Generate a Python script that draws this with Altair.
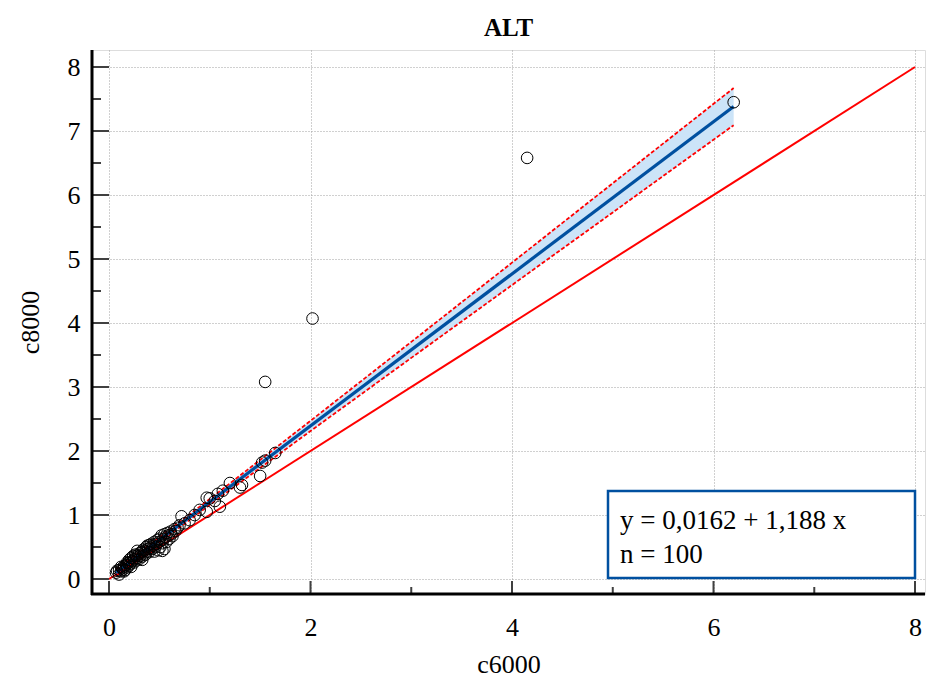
import altair as alt
import pandas as pd

# ---- data ----
c6000 = [
    0.07, 0.08, 0.10, 0.10, 0.12, 0.13, 0.14, 0.15, 0.16, 0.17,
    0.18, 0.19, 0.20, 0.20, 0.21, 0.22, 0.22, 0.23, 0.24, 0.25,
    0.25, 0.26, 0.27, 0.28, 0.28, 0.29, 0.30, 0.30, 0.31, 0.32,
    0.33, 0.34, 0.35, 0.35, 0.36, 0.37, 0.38, 0.39, 0.40, 0.40,
    0.41, 0.42, 0.43, 0.44, 0.45, 0.46, 0.47, 0.48, 0.49, 0.50,
    0.50, 0.51, 0.52, 0.53, 0.54, 0.55, 0.55, 0.56, 0.57, 0.58,
    0.59, 0.60, 0.61, 0.62, 0.63, 0.65, 0.66, 0.68, 0.70, 0.72,
    0.75, 0.45, 0.38, 0.33, 0.27, 0.18, 0.15, 0.12, 0.53,
    0.80, 0.85, 0.90, 0.97, 0.97, 1.00, 1.05, 1.10, 1.08, 1.13,
    1.20, 1.30, 1.32, 1.50, 1.52, 1.55, 1.65, 1.55, 2.02, 4.15, 6.20,
]
c8000 = [
    0.10, 0.13, 0.07, 0.14, 0.12, 0.17, 0.15, 0.20, 0.14, 0.22,
    0.18, 0.25, 0.21, 0.30, 0.24, 0.33, 0.19, 0.28, 0.36, 0.26,
    0.31, 0.38, 0.29, 0.33, 0.44, 0.37, 0.31, 0.40, 0.36, 0.42,
    0.35, 0.46, 0.40, 0.44, 0.38, 0.50, 0.43, 0.47, 0.42, 0.53,
    0.49, 0.55, 0.47, 0.52, 0.58, 0.50, 0.55, 0.61, 0.45, 0.58,
    0.63, 0.50, 0.68, 0.56, 0.62, 0.70, 0.47, 0.66, 0.58, 0.72,
    0.68, 0.63, 0.74, 0.70, 0.67, 0.78, 0.75, 0.80, 0.84, 0.98,
    0.87, 0.43, 0.52, 0.30, 0.36, 0.26, 0.12, 0.19, 0.44,
    0.92, 1.00, 1.08, 1.05, 1.27, 1.26, 1.22, 1.13, 1.33, 1.38,
    1.50, 1.43, 1.47, 1.61, 1.82, 1.85, 1.97, 3.08, 4.07, 6.58, 7.45,
]

intercept = 0.0162
slope = 1.188
n_obs = 100

# confidence band half-width at a few x positions
ci_x = [0.07, 0.5, 1.0, 2.0, 3.0, 4.0, 5.0, 6.2]
ci_half = [0.05, 0.04, 0.045, 0.08, 0.125, 0.175, 0.228, 0.29]

x_major = [0, 2, 4, 6, 8]
x_minor = [1, 3, 5, 7]
y_major = [0, 1, 2, 3, 4, 5, 6, 7, 8]
y_minor = [0.5, 1.5, 2.5, 3.5, 4.5, 5.5, 6.5, 7.5]

eq_text = "y = 0,0162 + 1,188 x"
n_text = "n = 100"

# ---- tables ----
pts = pd.DataFrame({"x": c6000, "y": c8000})
fit_x = [min(c6000), max(c6000)]
fit = pd.DataFrame({"x": fit_x, "y": [intercept + slope * v for v in fit_x]})
band = pd.DataFrame({
    "x": ci_x,
    "y": [intercept + slope * v - h for v, h in zip(ci_x, ci_half)],
    "hi": [intercept + slope * v + h for v, h in zip(ci_x, ci_half)],
})
ident = pd.DataFrame({"x": [0, 8], "y": [0, 8]})

W, H = 833, 544
FONT = "Liberation Serif"
xs = alt.Scale(domain=[-0.1687, 8.099], nice=False, zero=False)
ys = alt.Scale(domain=[-0.234, 8.266], nice=False, zero=False)

xaxis = alt.Axis(values=x_major, grid=True, ticks=False, domain=False,
                 gridColor="#a0a0a0", gridDash=[1, 2], gridWidth=1,
                 labelFont=FONT, labelFontSize=26, labelColor="black",
                 labelPadding=20, title="c6000", titleFont=FONT,
                 titleFontSize=26, titleFontWeight="normal", titleColor="black",
                 titlePadding=11)
yaxis = alt.Axis(values=y_major, grid=True, ticks=False, domain=False,
                 gridColor="#a0a0a0", gridDash=[1, 2], gridWidth=1,
                 labelFont=FONT, labelFontSize=26, labelColor="black",
                 labelPadding=12, title="c8000", titleFont=FONT,
                 titleFontSize=26, titleFontWeight="normal", titleColor="black",
                 titlePadding=24)


def X(field="x"):
    return alt.X(f"{field}:Q", scale=xs, axis=xaxis)


def Y(field="y"):
    return alt.Y(f"{field}:Q", scale=ys, axis=yaxis)


bandl = alt.Chart(band).mark_area(color="#cce4f8", opacity=1).encode(
    x=X(), y=Y(), y2="hi:Q")
lo_line = alt.Chart(band).mark_line(color="#ff0000", strokeWidth=1.8, strokeDash=[4, 2]).encode(
    x=X(), y=Y())
hi_line = alt.Chart(band).mark_line(color="#ff0000", strokeWidth=1.8, strokeDash=[4, 2]).encode(
    x=X(), y=Y("hi"))
ident_line = alt.Chart(ident).mark_line(color="#ff0000", strokeWidth=2).encode(
    x=X(), y=Y())
fit_line = alt.Chart(fit).mark_line(color="#0050a0", strokeWidth=3.2).encode(
    x=X(), y=Y())
points = alt.Chart(pts).mark_point(shape="circle", filled=False, size=135,
                                   color="black", strokeWidth=1, opacity=1).encode(
    x=X(), y=Y())

# inward tick marks
ytm = alt.Chart(pd.DataFrame({"y": y_major})).mark_rule(color="#404040", strokeWidth=2).encode(
    y=Y(), x=alt.value(0), x2=alt.value(17))
ytn = alt.Chart(pd.DataFrame({"y": y_minor})).mark_rule(color="#404040", strokeWidth=2).encode(
    y=Y(), x=alt.value(0), x2=alt.value(9))
xtm = alt.Chart(pd.DataFrame({"x": x_major})).mark_rule(color="#404040", strokeWidth=2).encode(
    x=X(), y=alt.value(H), y2=alt.value(H - 13))
xtn = alt.Chart(pd.DataFrame({"x": x_minor})).mark_rule(color="#404040", strokeWidth=2).encode(
    x=X(), y=alt.value(H), y2=alt.value(H - 7))

one = pd.DataFrame({"k": [0]})
left_ax = alt.Chart(one).mark_rule(color="black", strokeWidth=3).encode(
    x=alt.value(0), y=alt.value(0), y2=alt.value(H + 1))
bot_ax = alt.Chart(one).mark_rule(color="black", strokeWidth=3).encode(
    y=alt.value(H), x=alt.value(-1), x2=alt.value(W))

box = alt.Chart(one).mark_rect(fill="white", stroke="#0050a0", strokeWidth=2.5).encode(
    x=alt.value(516), x2=alt.value(823), y=alt.value(441), y2=alt.value(528))
t1 = alt.Chart(pd.DataFrame({"t": [eq_text]})).mark_text(
    align="left", baseline="alphabetic", font=FONT, fontSize=27, color="black").encode(
    text="t:N", x=alt.value(528), y=alt.value(479))
t2 = alt.Chart(pd.DataFrame({"t": [n_text]})).mark_text(
    align="left", baseline="alphabetic", font=FONT, fontSize=27, color="black").encode(
    text="t:N", x=alt.value(528), y=alt.value(513))

chart = alt.layer(
    bandl, lo_line, hi_line, ident_line, fit_line, points,
    ytm, ytn, xtm, xtn, left_ax, bot_ax, box, t1, t2,
).properties(
    width=W, height=H,
    title=alt.TitleParams("ALT", font=FONT, fontSize=25, fontWeight="bold",
                          color="black", anchor="middle", offset=8),
    autosize=alt.AutoSizeParams(type="none"),
    padding={"left": 92, "top": 50, "right": 3, "bottom": 85},
).configure_view(strokeWidth=0).configure(background="white")

chart.save("out.html", embed_options={"renderer": "svg", "actions": False})
